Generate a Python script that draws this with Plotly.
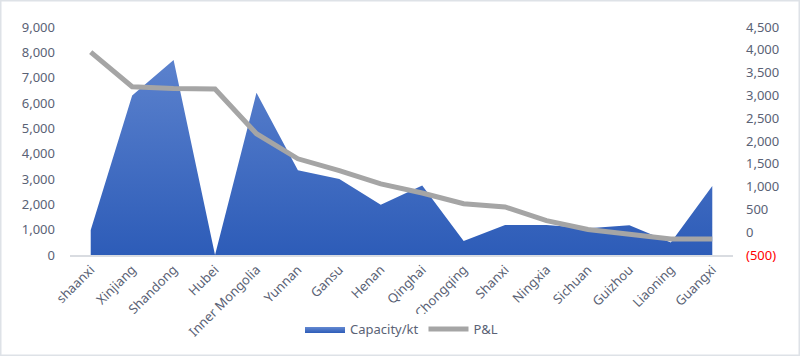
import plotly.graph_objects as go

categories = ["shaanxi", "Xinjiang", "Shandong", "Hubei", "Inner Mongolia", "Yunnan", "Gansu",
              "Henan", "Qinghai", "Chongqing", "Shanxi", "Ningxia", "Sichuan", "Guizhou",
              "Liaoning", "Guangxi"]
capacity_kt = [990, 6300, 7700, 0, 6400, 3350, 3000, 1980, 2740, 550, 1180, 1180, 1060, 1170, 490, 2720]
pnl = [3950, 3190, 3150, 3140, 2160, 1610, 1350, 1060, 860, 625, 555, 255, 60, -40, -150, -150]

left_ticks = [0, 1000, 2000, 3000, 4000, 5000, 6000, 7000, 8000, 9000]
left_ticktext = ["0", "1,000", "2,000", "3,000", "4,000", "5,000", "6,000", "7,000", "8,000", "9,000"]
right_ticks = [-500, 0, 500, 1000, 1500, 2000, 2500, 3000, 3500, 4000, 4500]
right_ticktext = ["<span style='color:#FF0000'>(500)</span>", "0", "500", "1,000", "1,500", "2,000",
                  "2,500", "3,000", "3,500", "4,000", "4,500"]

font_color = "#5A6275"
font_family = "Noto Sans"

fig = go.Figure()
fig.add_trace(go.Scatter(
    x=categories, y=capacity_kt, name="Capacity/kt", mode="lines",
    fill="tozeroy", line=dict(width=0, color="#3F6AC2"),
    fillgradient=dict(type="vertical", start=0, stop=9000,
                      colorscale=[[0, "#2D5CB8"], [1, "#6388D1"]]),
    yaxis="y",
))
fig.add_trace(go.Scatter(
    x=categories, y=pnl, name="P&L", mode="lines",
    line=dict(width=5, color="#A5A5A5"),
    yaxis="y2",
))

fig.update_layout(
    width=800, height=356,
    margin=dict(l=70, r=67, t=27, b=101),
    paper_bgcolor="white", plot_bgcolor="white",
    font=dict(family=font_family, size=13, color=font_color),
    showlegend=True,
    legend=dict(orientation="h", x=0.5, xanchor="center", y=-0.325, yanchor="middle",
                font=dict(size=13, color=font_color), itemwidth=40, tracegroupgap=0),
    xaxis=dict(type="category", range=[-0.5, 15.5], tickangle=-45, showgrid=False,
               showline=True, linecolor="#D9DCE1", linewidth=2, ticks="",
               tickfont=dict(size=13, color=font_color), zeroline=False),
    yaxis=dict(range=[0, 9000], tickvals=left_ticks, ticktext=left_ticktext, showgrid=False,
               zeroline=False, showline=False, ticks="", ticklabelstandoff=14,
               tickfont=dict(size=13, color=font_color)),
    yaxis2=dict(range=[-500, 4500], tickvals=right_ticks, ticktext=right_ticktext,
                overlaying="y", side="right", showgrid=False, zeroline=False,
                showline=False, ticks="", ticklabelstandoff=12,
                tickfont=dict(size=13, color=font_color)),
    shapes=[dict(type="rect", xref="paper", yref="paper",
                 x0=-70/663, x1=1 + 67/663, y0=-101/228, y1=1 + 27/228,
                 line=dict(color="#DEE2E7", width=3), fillcolor="rgba(0,0,0,0)", layer="above")],
)

fig.write_html("out.html", post_script="document.body.style.margin='0';",
               config={"displayModeBar": False})
